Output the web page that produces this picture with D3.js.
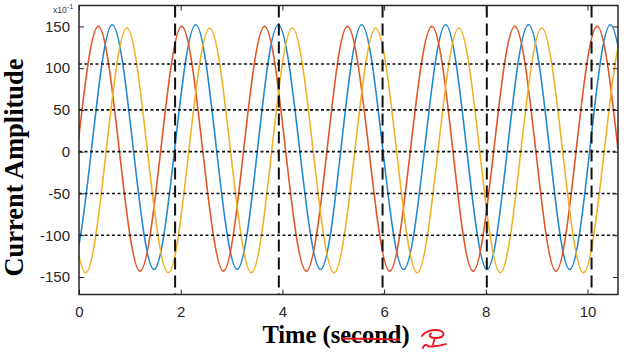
<!DOCTYPE html>
<html>

<head>
    <meta charset="UTF-8">
    <title>Current Amplitude vs Time</title>
    <script src="https://d3js.org/d3.v7.min.js"></script>
    <style>
        body { margin: 0; background: #fff; }
    </style>
</head>

<body>
    <div class="canvas"></div>

    <script>
        // data (time in s, amplitude in x10^-1)
        // peaks, troughs and mid crossings; the first/last crossing sits just past the frame
        const redT = [-0.03, 0.38, 0.79, 1.20, 1.61, 2.02, 2.43, 2.84, 3.24, 3.65, 4.06, 4.47, 4.88, 5.28, 5.70, 6.11, 6.52, 6.94, 7.35, 7.75, 8.16, 8.57, 8.98, 9.38, 9.78, 10.19, 10.60];
        const redV = [3, 150, 3, -143, 3, 150, 3, -143, 3, 150, 3, -143, 3, 150, 3, -143, 3, 150, 3, -143, 3, 150, 3, -143, 3, 150, 3];

        const blueT = [-0.575, -0.165, 0.25, 0.655, 1.065, 1.475, 1.885, 2.295, 2.70, 3.11, 3.515, 3.92, 4.335, 4.75, 5.155, 5.56, 5.97, 6.385, 6.80, 7.21, 7.62, 8.025, 8.43, 8.84, 9.25, 9.65, 10.05, 10.45, 10.86];
        const blueV = [5, -141, 5, 152, 5, -141, 5, 152, 5, -141, 5, 152, 5, -141, 5, 152, 5, -141, 5, 152, 5, -141, 5, 152, 5, -141, 5, 152, 5];

        const yellowT = [-0.275, 0.13, 0.535, 0.94, 1.345, 1.755, 2.16, 2.57, 2.98, 3.39, 3.79, 4.195, 4.605, 5.015, 5.425, 5.835, 6.245, 6.65, 7.06, 7.47, 7.88, 8.285, 8.69, 9.10, 9.51, 9.92, 10.33, 10.74, 11.15];
        const yellowV = [1, -145, 1, 148, 1, -145, 1, 148, 1, -145, 1, 148, 1, -145, 1, 148, 1, -145, 1, 148, 1, -145, 1, 148, 1, -145, 1, 148, 1];

        const xTicks = [0, 2, 4, 6, 8, 10];
        const yTicks = [-150, -100, -50, 0, 50, 100, 150];
        const hLines = [105, 50, 0, -50, -100];       // dotted reference levels
        const vLines = [1.89, 3.93, 5.97, 8.02, 10.08]; // dashed time markers

        // dimensions
        const width = 624;
        const height = 354;
        const margin = { top: 5.5, right: 6, bottom: 59.5, left: 79 };
        const graphWidth = width - margin.left - margin.right;
        const graphHeight = height - margin.top - margin.bottom;

        const svg = d3.select(".canvas")
            .append("svg")
            .attr("width", width)
            .attr("height", height);

        const graph = svg.append("g")
            .attr("transform", `translate(${margin.left}, ${margin.top})`);

        // scales
        const x = d3.scaleLinear()
            .domain([0, 10.6])
            .range([0, graphWidth]);

        const y = d3.scaleLinear()
            .domain([-171, 175])
            .range([graphHeight, 0]);

        graph.append("clipPath")
            .attr("id", "clip")
            .append("rect")
            .attr("width", graphWidth)
            .attr("height", graphHeight);

        // curves
        const series = [
            { t: blueT, v: blueV, color: "#2388d2" },
            { t: redT, v: redV, color: "#e0582a" },
            { t: yellowT, v: yellowV, color: "#efb226" }
        ];

        const line = d3.line()
            .x(d => x(d[0]))
            .y(d => y(d[1]))
            .curve(d3.curveNatural);

        graph.append("g")
            .attr("clip-path", "url(#clip)")
            .selectAll("path")
            .data(series)
            .enter()
            .append("path")
            .attr("fill", "none")
            .attr("stroke", d => d.color)
            .attr("stroke-width", 1.6)
            .attr("d", d => line(d.t.map((t, i) => [t, d.v[i]])));

        // dotted horizontal lines
        graph.selectAll(".hline")
            .data(hLines)
            .enter()
            .append("line")
            .attr("x1", 0)
            .attr("x2", graphWidth)
            .attr("y1", d => y(d))
            .attr("y2", d => y(d))
            .attr("stroke", "#111")
            .attr("stroke-width", 1.6)
            .attr("stroke-dasharray", "3,2.5");

        // dashed vertical lines
        graph.selectAll(".vline")
            .data(vLines)
            .enter()
            .append("line")
            .attr("x1", d => x(d))
            .attr("x2", d => x(d))
            .attr("y1", 0)
            .attr("y2", graphHeight)
            .attr("stroke", "#111")
            .attr("stroke-width", 2)
            .attr("stroke-dasharray", "12,6");

        // axes, ticks pointing inward
        const axisColor = "#262626";
        const styleAxis = g => {
            g.select(".domain").remove();
            g.selectAll("line").attr("stroke", axisColor).attr("stroke-width", 1);
            g.selectAll("text")
                .attr("fill", axisColor)
                .style("font-family", "'Liberation Sans', Arial, sans-serif")
                .style("font-size", "15px");
        };

        graph.append("g")
            .attr("transform", `translate(0, ${graphHeight})`)
            .call(d3.axisBottom(x).tickValues(xTicks).tickSize(-5).tickPadding(12).tickFormat(d => String(d)))
            .call(styleAxis);

        graph.append("g")
            .call(d3.axisTop(x).tickValues(xTicks).tickSize(-5).tickFormat(""))
            .call(styleAxis);

        graph.append("g")
            .call(d3.axisLeft(y).tickValues(yTicks).tickSize(-5).tickPadding(9).tickFormat(d => String(d)))
            .call(styleAxis);

        graph.append("g")
            .attr("transform", `translate(${graphWidth}, 0)`)
            .call(d3.axisRight(y).tickValues(yTicks).tickSize(-5).tickFormat(""))
            .call(styleAxis);

        // frame
        graph.append("rect")
            .attr("width", graphWidth)
            .attr("height", graphHeight)
            .attr("fill", "none")
            .attr("stroke", axisColor)
            .attr("stroke-width", 1.5);

        // exponent note
        const expo = svg.append("text")
            .attr("x", 53)
            .attr("y", 13)
            .attr("fill", "#404040")
            .style("font-family", "'Liberation Sans', Arial, sans-serif")
            .style("font-size", "8.5px")
            .text("x10");
        expo.append("tspan")
            .attr("dy", -4)
            .style("font-size", "7.5px")
            .text("-1");

        // axis titles
        svg.append("text")
            .attr("transform", "translate(22.5, 167.5) rotate(-90)")
            .attr("text-anchor", "middle")
            .style("font-family", "'Liberation Serif', 'Times New Roman', serif")
            .style("font-weight", "bold")
            .style("font-size", "26.5px")
            .text("Current Amplitude");

        svg.append("text")
            .attr("x", 336)
            .attr("y", 342.5)
            .attr("text-anchor", "middle")
            .style("font-family", "'Liberation Serif', 'Times New Roman', serif")
            .style("font-weight", "bold")
            .style("font-size", "24.5px")
            .text("Time (second)");

        // red hand annotation: strike-through and scribble
        svg.append("path")
            .attr("d", "M342,338.6 C360,339 382,338.8 400,339.8")
            .attr("fill", "none")
            .attr("stroke", "#e8141c")
            .attr("stroke-width", 2);

        svg.append("path")
            .attr("d", "M422,336 C425,331 433,329 440,330.5 C446,332.5 444,338 436,338 C430,338 428,335.5 431,333.5 " +
                "M435,338 C434,340.5 433.5,342.5 433,344.5 " +
                "M423,348 C423.5,344.5 427,344 428.5,346.5 C434,346.5 440,346 446,344")
            .attr("fill", "none")
            .attr("stroke", "#e8141c")
            .attr("stroke-width", 1.8)
            .attr("stroke-linecap", "round")
            .attr("stroke-linejoin", "round");
    </script>
</body>

</html>
